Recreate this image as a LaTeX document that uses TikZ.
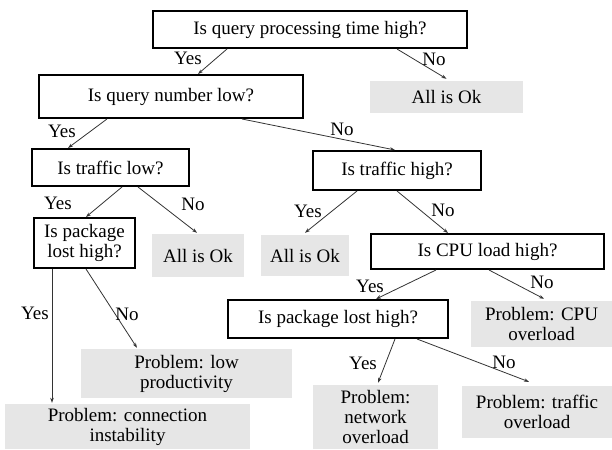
\documentclass[tikz,border=0pt]{standalone}
\usepackage{fontspec}
\setmainfont{Liberation Serif}
\usetikzlibrary{arrows.meta}
\tikzset{
  every node/.style={font=\fontsize{19}{20}\selectfont, inner sep=0pt, align=center},
  qbox/.style={draw=black, line width=2pt, fill=white},
  abox/.style={fill=boxgray},
  arr/.style={draw=black!80, line width=0.8pt, -{Stealth[length=5pt,width=3.5pt]}},
  lbl/.style={}
}
\definecolor{boxgray}{HTML}{E6E6E6}
\begin{document}
\begin{tikzpicture}[x=1pt,y=-1pt]
\useasboundingbox (0,0) rectangle (612,449);
% question boxes
\node[qbox, minimum width=314pt, minimum height=37pt] (q1) at (310,29.5) {Is query processing time high?};
\node[qbox, minimum width=264pt, minimum height=43pt] (q2) at (171,96.5) {Is query number low?};
\node[qbox, minimum width=157pt, minimum height=37pt] (q3) at (110.5,167.5) {Is traffic low?};
\node[qbox, minimum width=101pt, minimum height=50pt] (q4) at (84.5,243) {Is package\\lost high?};
\node[qbox, minimum width=168pt, minimum height=39pt] (q5) at (397,170.5) {Is traffic high?};
\node[qbox, minimum width=233pt, minimum height=35pt] (q6) at (487.5,251.5) {Is CPU load high?};
\node[qbox, minimum width=220pt, minimum height=38pt] (q7) at (338,319) {Is package lost high?};
% answer boxes
\node[abox, minimum width=153pt, minimum height=32pt] (A) at (446.5,97) {All is Ok};
\node[abox, minimum width=92pt, minimum height=43pt] (B) at (198,255.5) {All is Ok};
\node[abox, minimum width=88pt, minimum height=41pt] (C) at (305,255.5) {All is Ok};
\node[abox, minimum width=211pt, minimum height=49pt] (D) at (186.5,373.5) {Problem: low\\productivity};
\node[abox, minimum width=245pt, minimum height=45pt] (E) at (127.5,426.5) {Problem: connection\\instability};
\node[abox, minimum width=141pt, minimum height=46pt] (F) at (541.5,324) {Problem: CPU\\overload};
\node[abox, minimum width=125pt, minimum height=64pt] (G) at (375.5,417) {Problem:\\network\\overload};
\node[abox, minimum width=150pt, minimum height=52pt] (H) at (537,412) {Problem: traffic\\overload};
% connectors
\draw[arr] ([xshift=-83pt]q1.south) -- ([xshift=27pt]q2.north);
\draw[arr] ([xshift=87pt]q1.south) -- ([yshift=2pt]A.north);
\draw[arr] ([xshift=-64pt]q2.south) -- ([xshift=-42.5pt]q3.north);
\draw[arr] ([xshift=71pt]q2.south) -- ([xshift=-2pt]q5.north);
\draw[arr] ([xshift=11.5pt]q3.south) -- ([xshift=1.5pt]q4.north);
\draw[arr] ([xshift=27.5pt]q3.south) -- ([xshift=-1pt,yshift=1pt]B.north);
\draw[arr] ([xshift=-32.5pt]q4.south) -- ([xshift=-75.5pt,yshift=1pt]E.north);
\draw[arr] ([xshift=1.5pt]q4.south) -- ([xshift=-49.5pt,yshift=1pt]D.north);
\draw[arr] ([xshift=-40pt]q5.south) -- ([yshift=2pt]C.north);
\draw[arr] (q5.south) -- ([xshift=-39.5pt]q6.north);
\draw[arr] ([xshift=-51.5pt]q6.south) -- ([xshift=38pt]q7.north);
\draw[arr] ([xshift=1.5pt]q6.south) -- ([xshift=2.5pt,yshift=2pt]F.north);
\draw[arr] ([xshift=57pt]q7.south) -- ([xshift=2.5pt,yshift=2pt]G.north);
\draw[arr] ([xshift=79pt]q7.south) -- ([xshift=-8pt,yshift=4pt]H.north);
% labels
\node[lbl] (l1) at (188,58) {Yes};
\node[lbl] (l2) at (434,59) {No};
\node[lbl] (l3) at (62,131) {Yes};
\node[lbl] (l4) at (342,129) {No};
\node[lbl] (l5) at (58,203) {Yes};
\node[lbl] (l6) at (193,204) {No};
\node[lbl] (l7) at (308,211) {Yes};
\node[lbl] (l8) at (443,210) {No};
\node[lbl] (l9) at (35,313) {Yes};
\node[lbl] (l10) at (127,314) {No};
\node[lbl] (l11) at (370,286) {Yes};
\node[lbl] (l12) at (542,282) {No};
\node[lbl] (l13) at (363,363) {Yes};
\node[lbl] (l14) at (504,362) {No};
\end{tikzpicture}
\end{document}
